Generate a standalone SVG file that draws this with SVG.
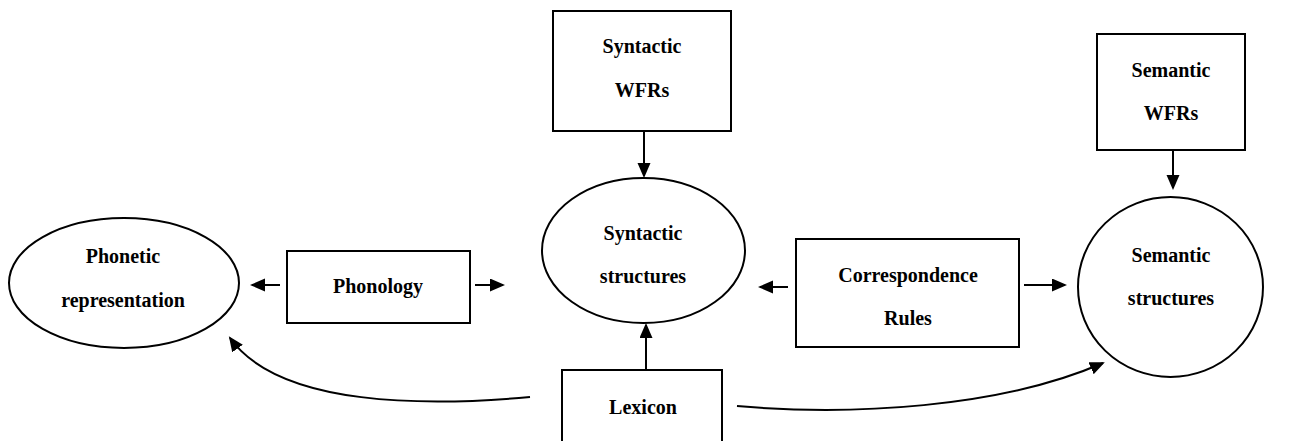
<svg xmlns="http://www.w3.org/2000/svg" width="1314" height="441" viewBox="0 0 1314 441">
<style>
.n{fill:#fff;stroke:#000;stroke-width:2}
.t{font-family:"Liberation Serif","Times New Roman",serif;font-weight:bold;font-size:20px;text-anchor:middle;fill:#000}
.c{fill:none;stroke:#000;stroke-width:2;marker-end:url(#ah)}
</style>
<defs>
<marker id="ah" markerUnits="userSpaceOnUse" markerWidth="16" markerHeight="14" refX="13" refY="6.5" orient="auto">
<path d="M0,0 L15,6.5 L0,13 z" fill="#000"/>
</marker>
</defs>
<rect width="1314" height="441" fill="#fff"/>
<g id="connectors">
<line class="c" x1="280" y1="285" x2="252" y2="285"/>
<line class="c" x1="475" y1="285" x2="503" y2="285"/>
<line class="c" x1="644" y1="131" x2="644" y2="176"/>
<line class="c" x1="646" y1="370" x2="646" y2="325"/>
<line class="c" x1="1173" y1="150" x2="1173" y2="188"/>
<line class="c" x1="788" y1="287" x2="760" y2="287"/>
<line class="c" x1="1024" y1="285" x2="1065" y2="285"/>
<path class="c" d="M530,397 C430,406 280,408 230,338"/>
<path class="c" d="M737,406 C850,416 1000,408 1103,363"/>
</g>
<g id="phonetic">
<ellipse class="n" cx="124" cy="283" rx="115" ry="65"/>
<text class="t" x="123" y="263">Phonetic</text>
<text class="t" x="123" y="307">representation</text>
</g>
<g id="phonology">
<rect class="n" x="287" y="251" width="183" height="72"/>
<text class="t" x="378" y="293">Phonology</text>
</g>
<g id="syntactic-wfrs">
<rect class="n" x="553" y="11" width="178" height="120"/>
<text class="t" x="642" y="53">Syntactic</text>
<text class="t" x="642" y="97">WFRs</text>
</g>
<g id="syntactic-structures">
<ellipse class="n" cx="643.5" cy="250.5" rx="101.5" ry="72.5"/>
<text class="t" x="643" y="240">Syntactic</text>
<text class="t" x="643" y="283">structures</text>
</g>
<g id="correspondence">
<rect class="n" x="796" y="239" width="223" height="108"/>
<text class="t" x="908" y="282">Correspondence</text>
<text class="t" x="908" y="325">Rules</text>
</g>
<g id="semantic-wfrs">
<rect class="n" x="1097" y="34" width="148" height="116"/>
<text class="t" x="1171" y="77">Semantic</text>
<text class="t" x="1171" y="120">WFRs</text>
</g>
<g id="semantic-structures">
<ellipse class="n" cx="1170.5" cy="287" rx="92.5" ry="90"/>
<text class="t" x="1171" y="262">Semantic</text>
<text class="t" x="1171" y="305">structures</text>
</g>
<g id="lexicon">
<rect class="n" x="562" y="370" width="160" height="80"/>
<text class="t" x="643" y="414">Lexicon</text>
</g>
</svg>
